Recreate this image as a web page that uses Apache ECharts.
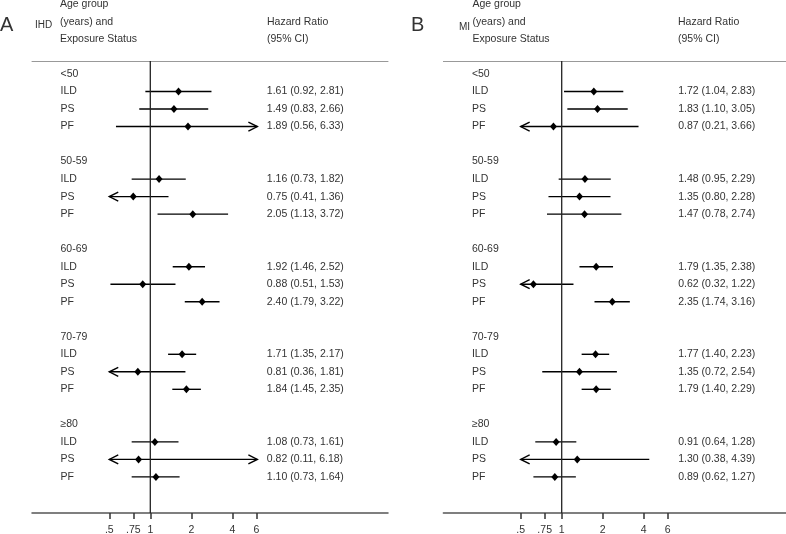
<!DOCTYPE html>
<html><head><meta charset="utf-8">
<script src="https://cdn.jsdelivr.net/npm/echarts@6/dist/echarts.min.js"></script>
<style>html,body{margin:0;padding:0;background:#fff}#c{width:786px;height:534px}</style>
</head><body><div id="c"></div>
<script>
// ---- data ----
const ageGroups = ['<50', '50-59', '60-69', '70-79', '\u226580'];
const exposures = ['ILD', 'PS', 'PF'];
// Panel A: IHD
const ihdHR = [1.61, 1.49, 1.89, 1.16, 0.75, 2.05, 1.92, 0.88, 2.40, 1.71, 0.81, 1.84, 1.08, 0.82, 1.10];
const ihdLo = [0.92, 0.83, 0.56, 0.73, 0.41, 1.13, 1.46, 0.51, 1.79, 1.35, 0.36, 1.45, 0.73, 0.11, 0.73];
const ihdHi = [2.81, 2.66, 6.33, 1.82, 1.36, 3.72, 2.52, 1.53, 3.22, 2.17, 1.81, 2.35, 1.61, 6.18, 1.64];
// Panel B: MI
const miHR = [1.72, 1.83, 0.87, 1.48, 1.35, 1.47, 1.79, 0.62, 2.35, 1.77, 1.35, 1.79, 0.91, 1.30, 0.89];
const miLo = [1.04, 1.10, 0.21, 0.95, 0.80, 0.78, 1.35, 0.32, 1.74, 1.40, 0.72, 1.40, 0.64, 0.38, 0.62];
const miHi = [2.83, 3.05, 3.66, 2.29, 2.28, 2.74, 2.38, 1.22, 3.16, 2.23, 2.54, 2.29, 1.28, 4.39, 1.27];
// axis ticks
const tickValues = [0.5, 0.75, 1, 2, 4, 6];
const tickLabels = ['.5', '.75', '1', '2', '4', '6'];

// ---- layout / style ----
const FONT = '"Liberation Sans", Arial, sans-serif';
const TXT = '#333';
const FS = 10.5;
const X_MIN = 0.1356, X_MAX = 55.4;
const CLIP_LO = 0.5, CLIP_HI = 6.1;
const Y_MIN = -0.742, Y_MAX = 25.06;

function buildRows(hr, lo, hi) {
  const left = {}, right = {}, data = [];
  ageGroups.forEach((g, gi) => {
    left[gi * 5] = g;
    exposures.forEach((e, k) => {
      const r = gi * 5 + 1 + k, i = gi * 3 + k;
      left[r] = e;
      right[r] = hr[i].toFixed(2) + ' (' + lo[i].toFixed(2) + ', ' + hi[i].toFixed(2) + ')';
      data.push([hr[i], lo[i], hi[i], r]);
    });
  });
  return { left, right, data };
}

function renderCI(params, api) {
  const est = api.value(0), lo = api.value(1), hi = api.value(2), row = api.value(3);
  const a = api.coord([Math.max(lo, CLIP_LO), row]);
  const b = api.coord([Math.min(hi, CLIP_HI), row]);
  const e = api.coord([est, row]);
  const st = { stroke: '#000', lineWidth: 1.4, fill: null };
  const ch = [{ type: 'line', shape: { x1: a[0], y1: a[1], x2: b[0], y2: b[1] }, style: st }];
  if (lo < CLIP_LO) ch.push({ type: 'polyline', shape: { points: [[a[0] + 9, a[1] - 4.5], [a[0], a[1]], [a[0] + 9, a[1] + 4.5]] }, style: st });
  if (hi > CLIP_HI) ch.push({ type: 'polyline', shape: { points: [[b[0] - 9, b[1] - 4.5], [b[0], b[1]], [b[0] - 9, b[1] + 4.5]] }, style: st });
  ch.push({ type: 'polygon', shape: { points: [[e[0] - 3.5, e[1]], [e[0], e[1] - 4], [e[0] + 3.5, e[1]], [e[0], e[1] + 4]] }, style: { fill: '#000' } });
  return { type: 'group', children: ch };
}

const panels = [
  { rows: buildRows(ihdHR, ihdLo, ihdHi), left: 32 },
  { rows: buildRows(miHR, miLo, miHi), left: 443.4 }
];

const grid = [], xAxis = [], yAxis = [], series = [];
panels.forEach((p, pi) => {
  grid.push({ left: p.left, top: 61, width: 356, height: 452, containLabel: false, outerBoundsMode: 'none' });
  xAxis.push({
    type: 'log', gridIndex: pi, min: X_MIN, max: X_MAX, position: 'bottom',
    axisLine: { show: true, onZero: false, lineStyle: { color: '#555', width: 1.5 } },
    axisTick: { show: true, customValues: tickValues, length: 6, lineStyle: { color: '#333', width: 1.5 } },
    axisLabel: { customValues: tickValues, formatter: v => tickLabels[tickValues.indexOf(v)] ?? '', color: TXT, fontSize: FS, fontFamily: FONT, margin: 12 },
    splitLine: { show: false }
  });
  xAxis.push({
    type: 'log', gridIndex: pi, min: X_MIN, max: X_MAX, position: 'top',
    axisLine: { show: true, onZero: false, lineStyle: { color: '#999', width: 1 } },
    axisTick: { show: false }, axisLabel: { show: false }, splitLine: { show: false }
  });
  const lk = Object.keys(p.rows.left).map(Number);
  const rk = Object.keys(p.rows.right).map(Number);
  yAxis.push({
    type: 'value', gridIndex: pi, inverse: true, min: Y_MIN, max: Y_MAX, position: 'left',
    axisLine: { show: false, onZero: false }, axisTick: { show: false }, splitLine: { show: false },
    axisLabel: { inside: true, align: 'left', margin: 28.5, customValues: lk, formatter: v => p.rows.left[v] ?? '', color: TXT, fontSize: FS, fontFamily: FONT }
  });
  yAxis.push({
    type: 'value', gridIndex: pi, inverse: true, min: Y_MIN, max: Y_MAX, position: 'right',
    axisLine: { show: false, onZero: false }, axisTick: { show: false }, splitLine: { show: false },
    axisLabel: { inside: true, align: 'left', margin: 121.2, customValues: rk, formatter: v => p.rows.right[v] ?? '', color: TXT, fontSize: FS, fontFamily: FONT }
  });
  series.push({
    type: 'line', xAxisIndex: pi * 2, yAxisIndex: pi * 2, data: [[1, Y_MIN], [1, Y_MAX]],
    symbol: 'none', lineStyle: { color: '#222', width: 1.3 }, silent: true, animation: false
  });
  series.push({
    type: 'custom', xAxisIndex: pi * 2, yAxisIndex: pi * 2, data: p.rows.data,
    encode: { x: [0, 1, 2], y: 3 }, renderItem: renderCI, clip: false, animation: false, silent: true
  });
});

function txt(x, y, t, size) {
  return { type: 'text', x: x, y: y, style: { text: t, fill: TXT, font: (size || FS) + 'px ' + FONT, textVerticalAlign: 'middle', textAlign: 'left' } };
}
const graphic = [
  txt(0, 25, 'A', 20), txt(35, 25, 'IHD', 10),
  txt(60, 4.3, 'Age group'), txt(60, 21.8, '(years) and'), txt(60, 39.3, 'Exposure Status'),
  txt(267, 21.8, 'Hazard Ratio'), txt(267, 39.3, '(95% CI)'),
  txt(411, 25, 'B', 20), txt(459, 27, 'MI', 10),
  txt(472.5, 4.3, 'Age group'), txt(472.5, 21.8, '(years) and'), txt(472.5, 39.3, 'Exposure Status'),
  txt(678, 21.8, 'Hazard Ratio'), txt(678, 39.3, '(95% CI)')
];

const chart = echarts.init(document.getElementById('c'), null, { renderer: 'canvas' });
chart.setOption({ animation: false, backgroundColor: '#fff', grid, xAxis, yAxis, series, graphic });
</script></body></html>
